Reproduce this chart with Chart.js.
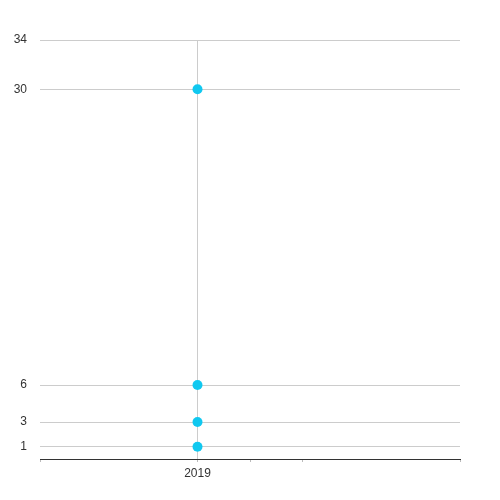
<!DOCTYPE html>
<html>
<head>
<meta charset="utf-8">
<script src="https://cdn.jsdelivr.net/npm/chart.js@4/dist/chart.umd.min.js"></script>
<style>
  html, body { margin: 0; padding: 0; background: #fff; }
  #wrap { width: 500px; height: 500px; }
</style>
</head>
<body>
<div id="wrap"><canvas id="chart" width="500" height="500"></canvas></div>
<script>
// data
const year = 2019;
const values = [30, 6, 3, 1];
const yTicks = [1, 3, 6, 30, 34];
const xMarks = [2018.25, 2019, 2019.25, 2019.5, 2020.25];

const points = values.map(v => ({ x: year, y: v }));

const config = {
  type: 'scatter',
  data: {
    datasets: [{
      label: String(year),
      data: points,
      backgroundColor: '#10c8f0',
      borderWidth: 0,
      pointRadius: 5,
      pointHoverRadius: 5
    }]
  },
  options: {
    responsive: false,
    animation: false,
    layout: { padding: { top: 40, right: 40, left: 0, bottom: 0 } },
    plugins: { legend: { display: false }, tooltip: { enabled: false } },
    scales: {
      x: {
        type: 'linear',
        min: 2018.25,
        max: 2020.25,
        afterBuildTicks: axis => { axis.ticks = xMarks.map(v => ({ value: v })); },
        afterFit: axis => { axis.height = 41; },
        border: { display: true, color: '#333', width: 1 },
        grid: {
          color: ctx => (ctx.tick && ctx.tick.value === year) ? '#ccc' : 'rgba(0,0,0,0)',
          tickColor: '#bbb',
          tickLength: 3,
          drawTicks: true
        },
        ticks: {
          autoSkip: false,
          maxRotation: 0,
          padding: 4,
          color: '#333',
          font: { family: 'Liberation Sans, Arial, sans-serif', size: 12 },
          callback: v => (v === year ? String(year) : '')
        }
      },
      y: {
        min: 0,
        max: 34,
        afterBuildTicks: axis => { axis.ticks = yTicks.map(v => ({ value: v })); },
        afterFit: axis => { axis.width = 40; },
        border: { display: false },
        grid: { color: '#ccc', drawTicks: false },
        ticks: {
          padding: 13,
          color: '#333',
          font: { family: 'Liberation Sans, Arial, sans-serif', size: 12 }
        }
      }
    }
  }
};

let c = document.getElementById('chart').getContext('2d');
new Chart(c, config);
</script>
</body>
</html>
